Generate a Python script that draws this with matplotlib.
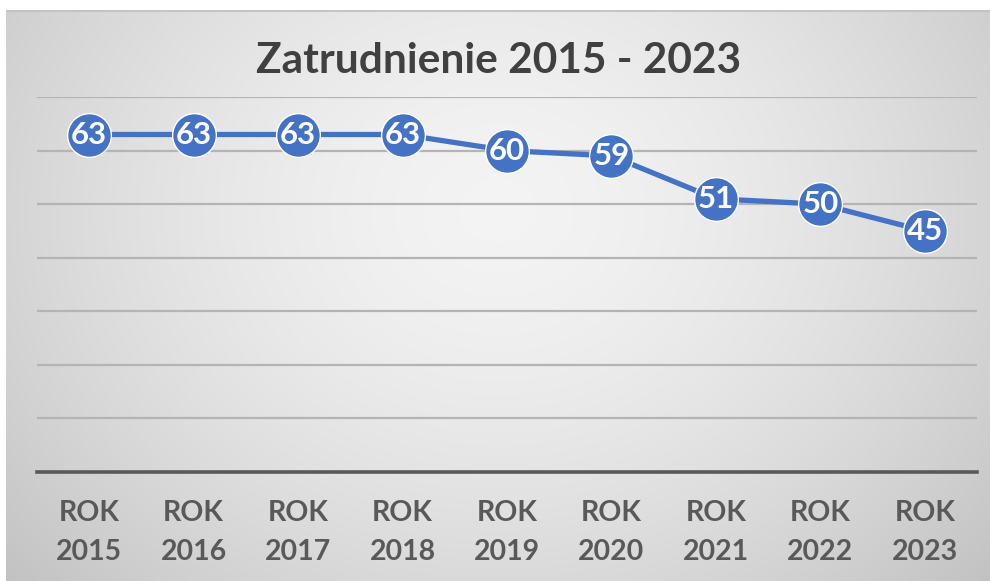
import numpy as np
import matplotlib
matplotlib.use("Agg")
import matplotlib.pyplot as plt

title = "Zatrudnienie 2015 - 2023"
categories = ["ROK\n2015", "ROK\n2016", "ROK\n2017", "ROK\n2018", "ROK\n2019",
              "ROK\n2020", "ROK\n2021", "ROK\n2022", "ROK\n2023"]
values = [63, 63, 63, 63, 60, 59, 51, 50, 45]
y_ticks = [0, 10, 20, 30, 40, 50, 60, 70]

plt.rcParams['font.family'] = ['Lato', 'DejaVu Sans']

W, H = 990, 581
fig = plt.figure(figsize=(W / 100, H / 100), dpi=100)
fig.patch.set_facecolor("white")

# background with radial gradient
bg = fig.add_axes([6 / W, 0, (W - 6) / W, (H - 10) / H])
bg.set_axis_off()
nx, ny = 400, 240
xx, yy = np.meshgrid(np.linspace(0, 1, nx), np.linspace(0, 1, ny))
r = np.sqrt(((xx - 0.5) / 0.62) ** 2 + ((yy - 0.35) / 0.9) ** 2)
val = 0.955 - 0.17 * np.clip(r, 0, 1.3) ** 1.6
img = np.dstack([val, val, val])
bg.imshow(img, extent=[0, 1, 0, 1], aspect="auto", origin="upper", interpolation="bilinear")
bg.set_xlim(0, 1)
bg.set_ylim(0, 1)
bg.plot([0, 1], [0.999, 0.999], color="#c4c4c4", lw=1.5, transform=bg.transAxes)

ax = fig.add_axes([37 / W, 1 - 472 / H, (977 - 37) / W, (472 - 97) / H])
ax.patch.set_alpha(0)
x = np.arange(len(categories))
ax.set_xlim(-0.5, len(categories) - 0.5)
ax.set_ylim(y_ticks[0], y_ticks[-1])
ax.set_yticks(y_ticks)
for t in y_ticks[1:]:
    ax.axhline(t, color="#b4b4b4", lw=1.6, zorder=1)
ax.axhline(0, color="#595959", lw=2.6, zorder=2, clip_on=False)
for s in ax.spines.values():
    s.set_visible(False)
ax.tick_params(left=False, labelleft=False, bottom=False)
ax.set_xticks(x)
ax.set_xticklabels(categories, fontsize=20.5, fontweight="bold", color="#595959",
                   linespacing=1.6)
ax.tick_params(axis="x", pad=17)

ax.plot(x, values, color="#4472C4", lw=3.8, marker="o", markersize=31.5,
        markerfacecolor="#4472C4", markeredgecolor="white", markeredgewidth=1.0,
        zorder=3, clip_on=False)
for xi, v in zip(x, values):
    ax.text(xi, v, str(v), ha="center", va="center", fontsize=22.5, fontweight="bold",
            color="white", zorder=4)

fig.text(499 / W, 1 - 73 / H, title, ha="center", va="baseline", fontsize=30.5,
         fontweight="bold", color="#404040")

fig.savefig("out.png", dpi=100)
